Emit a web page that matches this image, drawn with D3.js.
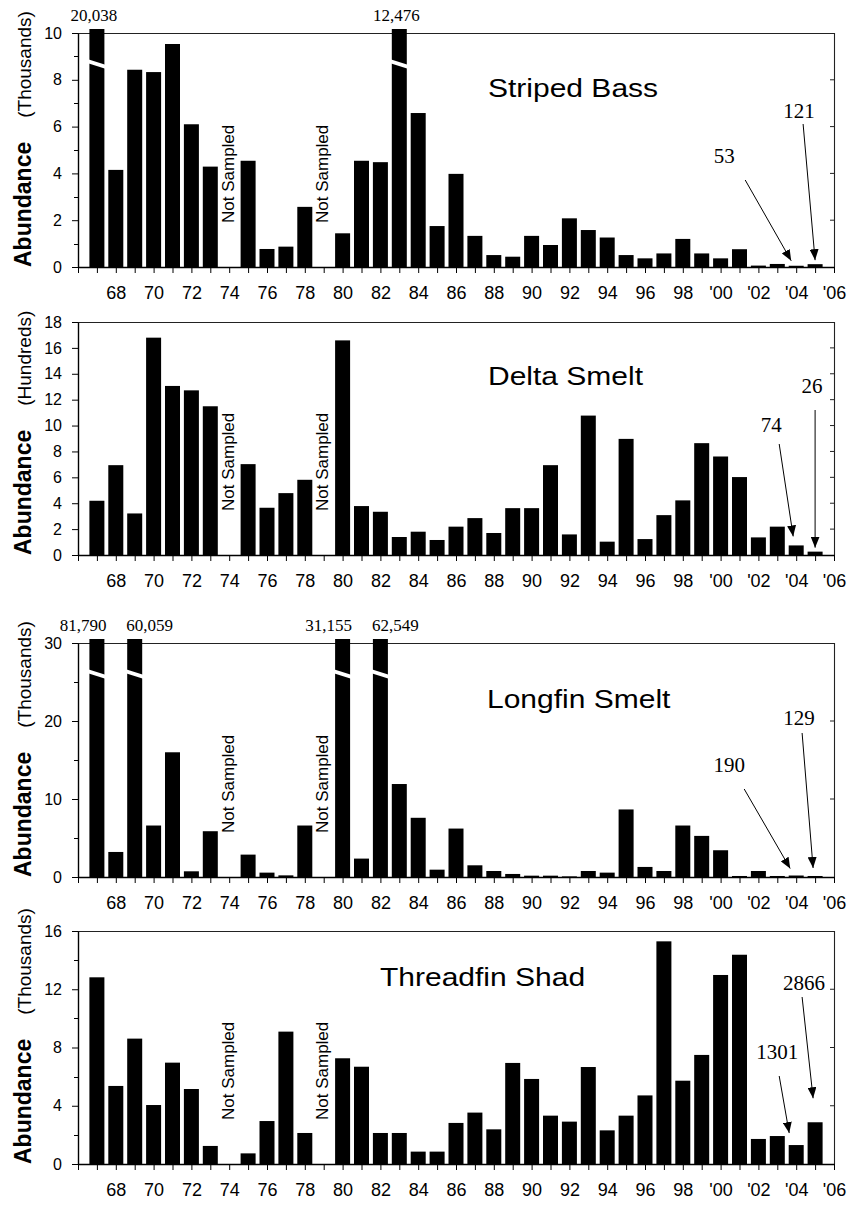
<!DOCTYPE html>
<html>
<head>
<meta charset="utf-8">
<script src="https://cdn.jsdelivr.net/npm/d3@7"></script>
<style>
  body { margin: 0; background: #fff; }
  svg text { fill: #000; font-family: "Liberation Sans", Arial, sans-serif; }
  .serif { font-family: "Liberation Serif", "Times New Roman", serif !important; }
</style>
</head>
<body>
<div id="viz"></div>
<script>

// survey years 1967-2005, null = not sampled
var years = d3.range(1967, 2006);

var bassValues = [20.038, 4.15, 8.43, 8.33, 9.53, 6.1, 4.29, null, 4.54, 0.77, 0.87, 2.57, null,
  1.44, 4.54, 4.48, 12.476, 6.58, 1.75, 3.98, 1.33, 0.51, 0.44, 1.33, 0.94, 2.08, 1.58, 1.26,
  0.51, 0.37, 0.58, 1.2, 0.58, 0.37, 0.76, 0.06, 0.13, 0.053, 0.121];

var deltaValues = [4.19, 6.94, 3.21, 16.79, 13.06, 12.72, 11.49, null, 7.02, 3.65, 4.78, 5.81, null,
  16.58, 3.78, 3.34, 1.39, 1.8, 1.16, 2.19, 2.85, 1.7, 3.62, 3.62, 6.94, 1.59, 10.77, 1.03,
  8.97, 1.23, 3.08, 4.22, 8.64, 7.61, 6.02, 1.36, 2.19, 0.74, 0.26];

var longfinValues = [81.79, 3.21, 60.059, 6.6, 15.99, 0.73, 5.87, null, 2.87, 0.56, 0.21, 6.6, null,
  31.155, 2.36, 62.549, 11.92, 7.59, 0.94, 6.21, 1.5, 0.77, 0.39, 0.17, 0.17, 0.08, 0.77, 0.56,
  8.66, 1.29, 0.77, 6.6, 5.27, 3.43, 0.13, 0.77, 0.13, 0.19, 0.129];

var shadValues = [12.82, 5.36, 8.61, 4.05, 6.96, 5.15, 1.24, null, 0.73, 2.95, 9.09, 2.13, null,
  7.26, 6.68, 2.13, 2.13, 0.85, 0.85, 2.82, 3.53, 2.38, 6.94, 5.84, 3.32, 2.91, 6.66, 2.31,
  3.32, 4.71, 15.29, 5.72, 7.49, 12.98, 14.37, 1.72, 1.92, 1.301, 2.866];

var bassTicks = [0, 2, 4, 6, 8, 10];
var deltaTicks = [0, 2, 4, 6, 8, 10, 12, 14, 16, 18];
var longfinTicks = [0, 10, 20, 30];
var shadTicks = [0, 4, 8, 12, 16];

var width = 848;
var height = 1205;

var svg = d3.select("#viz").append("svg")
    .attr("width", width)
    .attr("height", height);

svg.append("defs").append("marker")
    .attr("id", "head")
    .attr("markerUnits", "userSpaceOnUse")
    .attr("markerWidth", 11)
    .attr("markerHeight", 9)
    .attr("refX", 11)
    .attr("refY", 4.5)
    .attr("orient", "auto")
  .append("path")
    .attr("d", "M0,0 L11,4.5 L0,9 Z")
    .attr("fill", "#000");

var x = d3.scaleLinear().domain([1966, 2006]).range([78, 834]);
var barWidth = 15;

// panel layout; callouts: label offset from bar (lx, ly from baseline), tail offset from label, tip offset from bar top
var panels = [
  { title: "Striped Bass", unit: "(Thousands)", mult: 1000, values: bassValues, ticks: bassTicks,
    minor: 1, top: 33, bottom: 267, titleX: 488, titleDy: 64,
    callouts: [
      { year: 2004, lx: -72, ly: -104, tx: 21, ty: 17, px: -5, py: -5 },
      { year: 2005, lx: -16, ly: -149, tx: 4, ty: 6, px: 0, py: -4 }
    ] },
  { title: "Delta Smelt", unit: "(Hundreds)", mult: 100, values: deltaValues, ticks: deltaTicks,
    minor: null, top: 322, bottom: 555, titleX: 488, titleDy: 63,
    callouts: [
      { year: 2004, lx: -25, ly: -123, tx: 8, ty: 12, px: -3, py: -9 },
      { year: 2005, lx: -3, ly: -162, tx: 3, ty: 17, px: 0, py: -4 }
    ] },
  { title: "Longfin Smelt", unit: "(Thousands)", mult: 1000, values: longfinValues, ticks: longfinTicks,
    minor: 5, top: 643, bottom: 877, titleX: 487, titleDy: 65,
    callouts: [
      { year: 2004, lx: -67, ly: -105, tx: 15, ty: 17, px: -6, py: -7 },
      { year: 2005, lx: -16, ly: -152, tx: 3, ty: 8, px: -2, py: -8 }
    ] },
  { title: "Threadfin Shad", unit: "(Thousands)", mult: 1000, values: shadValues, ticks: shadTicks,
    minor: 2, top: 931, bottom: 1164, titleX: 380, titleDy: 55,
    callouts: [
      { year: 2004, lx: -19, ly: -105, tx: 2, ty: 17, px: -7, py: -12 },
      { year: 2005, lx: -11, ly: -174, tx: -2, ty: 7, px: -2, py: -24 }
    ] }
];

function yearLabel(d) {
  if (d % 2 || d < 1968) return "";
  var s = String(d).slice(2);
  return d < 2000 ? s : "'" + s;
}

panels.forEach(drawPanel);

function drawPanel(p) {
  var yMax = d3.max(p.ticks);
  var y = d3.scaleLinear().domain([0, yMax]).range([p.bottom, p.top]);
  var g = svg.append("g");

  var rows = years.map(function(yr, i) { return { year: yr, value: p.values[i] }; });
  var sampled = rows.filter(function(d) { return d.value != null; });
  var broken = sampled.filter(function(d) { return d.value > yMax; });

  // frame
  g.append("line")
      .attr("x1", x(1966)).attr("x2", x(2006))
      .attr("y1", p.top + 0.5).attr("y2", p.top + 0.5)
      .attr("stroke", "#222").attr("stroke-width", 1.1);
  g.append("line")
      .attr("x1", x(2006) + 0.5).attr("x2", x(2006) + 0.5)
      .attr("y1", p.top).attr("y2", p.bottom)
      .attr("stroke", "#222").attr("stroke-width", 1.1);

  g.selectAll(".rtick").data(p.ticks.slice(1, -1)).join("line")
      .attr("x1", x(2006) - 4).attr("x2", x(2006))
      .attr("y1", function(d) { return y(d); })
      .attr("y2", function(d) { return y(d); })
      .attr("stroke", "#222");

  if (p.minor) {
    var minors = d3.range(p.minor, yMax, p.minor).filter(function(v) { return p.ticks.indexOf(v) < 0; });
    g.selectAll(".minor").data(minors).join("line")
        .attr("x1", x(1966) - 4).attr("x2", x(1966))
        .attr("y1", function(d) { return Math.round(y(d)) + 0.5; })
        .attr("y2", function(d) { return Math.round(y(d)) + 0.5; })
        .attr("stroke", "#000");
  }

  // bars
  function barTop(d) { return d.value > yMax ? y(yMax) - 4 : y(d.value); }
  g.selectAll(".bar").data(sampled).join("rect")
      .attr("x", function(d) { return x(d.year) - barWidth / 2; })
      .attr("width", barWidth)
      .attr("y", barTop)
      .attr("height", function(d) { return p.bottom - barTop(d); })
      .attr("fill", "#000");

  // axis breaks on bars that run off the scale
  var by = y(yMax * 0.89);
  g.selectAll(".brk").data(broken).join("polygon")
      .attr("points", function(d) {
        var l = x(d.year) - barWidth / 2 - 3, r = x(d.year) + barWidth / 2 + 1;
        return [[l, by], [r, by + 6], [r, by + 10], [l, by + 4]].join(" ");
      })
      .attr("fill", "#fff");

  g.selectAll(".brklabel").data(broken).join("text")
      .attr("class", "serif")
      .attr("font-size", 17)
      .attr("y", p.top - 12)
      .attr("x", function(d) {
        if (hasNeighbour(d, 2)) return x(d.year) + barWidth / 2 + 2;
        if (hasNeighbour(d, -2)) return x(d.year) - barWidth / 2 - 1;
        return x(d.year) - 3;
      })
      .attr("text-anchor", function(d) {
        if (hasNeighbour(d, 2)) return "end";
        if (hasNeighbour(d, -2)) return "start";
        return "middle";
      })
      .text(function(d) { return d3.format(",")(Math.round(d.value * p.mult)); });

  function hasNeighbour(d, step) {
    return broken.some(function(b) { return b.year === d.year + step; });
  }

  // not sampled years
  g.selectAll(".ns").data(rows.filter(function(d) { return d.value == null; })).join("text")
      .attr("transform", function(d) { return "translate(" + (x(d.year) + 4.5) + "," + (p.bottom - 44) + ") rotate(-90)"; })
      .attr("font-size", 17)
      .text("Not Sampled");

  // axes
  var xAxis = d3.axisBottom(x)
      .tickValues(d3.range(1966, 2007))
      .tickFormat(yearLabel)
      .tickSize(6)
      .tickSizeOuter(0)
      .tickPadding(13);
  var xg = g.append("g")
      .attr("transform", "translate(0," + p.bottom + ")")
      .call(xAxis);
  xg.selectAll("text").attr("font-size", 18).style("font-family", null);
  xg.select(".domain").attr("stroke-width", 1.4);

  var yAxis = d3.axisLeft(y)
      .tickValues(p.ticks)
      .tickSize(6)
      .tickSizeOuter(0)
      .tickPadding(10);
  var yg = g.append("g")
      .attr("transform", "translate(" + x(1966) + ",0)")
      .call(yAxis);
  yg.selectAll("text").attr("font-size", 16).style("font-family", null);
  yg.select(".domain").attr("stroke-width", 1.4);

  // title
  g.append("text")
      .attr("transform", "translate(" + p.titleX + "," + (p.top + p.titleDy) + ") scale(1.2,1)")
      .attr("font-size", 25)
      .text(p.title);

  // y label
  var yl = g.append("text")
      .attr("transform", "translate(31," + p.bottom + ") rotate(-90)");
  yl.append("tspan").attr("font-size", 23).attr("font-weight", "bold").text("Abundance");
  yl.append("tspan").attr("font-size", 19).attr("dx", 24).text(p.unit);

  // callouts for the latest years
  p.callouts.forEach(function(c) {
    var v = p.values[years.indexOf(c.year)];
    var lx = x(c.year) + c.lx, ly = p.bottom + c.ly;
    g.append("text")
        .attr("class", "serif")
        .attr("x", lx).attr("y", ly)
        .attr("text-anchor", "middle")
        .attr("font-size", 21)
        .text(Math.round(v * p.mult));
    g.append("line")
        .attr("x1", lx + c.tx).attr("y1", ly + c.ty)
        .attr("x2", x(c.year) + c.px).attr("y2", y(v) + c.py)
        .attr("stroke", "#000")
        .attr("stroke-width", 1)
        .attr("marker-end", "url(#head)");
  });
}

</script>
</body>
</html>
